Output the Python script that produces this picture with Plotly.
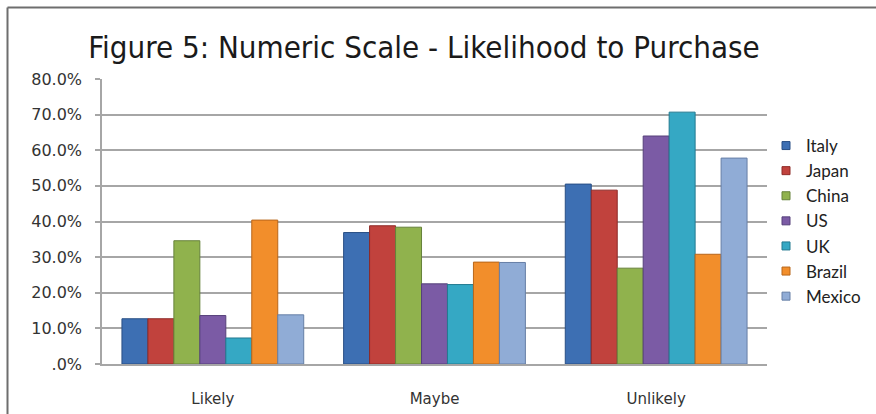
import plotly.graph_objects as go

# Survey answers by country, share of respondents per answer
categories = ["Likely", "Maybe", "Unlikely"]
countries = ["Italy", "Japan", "China", "US", "UK", "Brazil", "Mexico"]
italy = [12.7, 36.9, 50.5]
japan = [12.7, 38.8, 48.8]
china = [34.6, 38.4, 26.9]
us = [13.6, 22.5, 64.0]
uk = [7.3, 22.3, 70.7]
brazil = [40.4, 28.6, 30.8]
mexico = [13.8, 28.5, 57.8]

y_ticks = [0, 10, 20, 30, 40, 50, 60, 70, 80]
y_tick_labels = [".0%", "10.0%", "20.0%", "30.0%", "40.0%", "50.0%", "60.0%", "70.0%", "80.0%"]

series = [italy, japan, china, us, uk, brazil, mexico]
fills = ["#3d6fb3", "#c1423d", "#90b24d", "#7b5ba5", "#35a8c4", "#f28e2b", "#90acd6"]
edges = ["#294f85", "#8e2a27", "#66823a", "#56407a", "#237a90", "#b8661a", "#667fa6"]

W, H = 876, 414
L, R, T, B = 102, 109, 79, 50
pw, ph = W - L - R, H - T - B

fig = go.Figure()
for name, vals, fc, ec in zip(countries, series, fills, edges):
    fig.add_trace(go.Bar(
        x=categories, y=vals, name=name, showlegend=False,
        marker=dict(color=fc, line=dict(color=ec, width=1)),
    ))
# small square swatches for the legend
for name, fc, ec in zip(countries, fills, edges):
    fig.add_trace(go.Scatter(
        x=[None], y=[None], mode="markers", name=name,
        marker=dict(symbol="square", size=8, color=fc, line=dict(color=ec, width=1)),
    ))

def px_x(v):
    return (v - L) / pw

def px_y(v):
    return (H - B - v) / ph

# outer frame: top and left edges only
fig.add_shape(type="line", xref="paper", yref="paper",
              x0=px_x(7.5), x1=px_x(900), y0=px_y(7.5), y1=px_y(7.5),
              line=dict(color="#6e6e6e", width=2))
fig.add_shape(type="line", xref="paper", yref="paper",
              x0=px_x(7.5), x1=px_x(7.5), y0=px_y(7.5), y1=px_y(430),
              line=dict(color="#6e6e6e", width=2))

fig.update_layout(
    width=W, height=H,
    margin=dict(l=L, r=R, t=T, b=B, autoexpand=False),
    paper_bgcolor="white", plot_bgcolor="white",
    barmode="group", bargap=0.18, bargroupgap=0.0,
    title=dict(
        text="Figure 5: Numeric Scale - Likelihood to Purchase",
        x=424 / W, xanchor="center", xref="container",
        y=1 - 47 / H, yanchor="middle", yref="container",
        font=dict(family="DejaVu Sans Condensed, DejaVu Sans", size=31, color="#1a1a1a"),
    ),
    font=dict(family="DejaVu Sans", color="#333333"),
    legend=dict(
        x=px_x(766), xanchor="left", y=px_y(221), yanchor="middle",
        font=dict(family="Lato, DejaVu Sans", size=17, color="#222222"),
        itemwidth=30, tracegroupgap=0, bgcolor="rgba(0,0,0,0)",
    ),
    xaxis=dict(
        showgrid=False, showline=True, linecolor="#a6a6a6", linewidth=1.5,
        ticks="", tickfont=dict(family="DejaVu Sans", size=15, color="#333333"),
        ticklabelstandoff=20,
    ),
    yaxis=dict(
        range=[0, 80], tickvals=y_ticks, ticktext=y_tick_labels,
        showgrid=True, gridcolor="#a6a6a6", gridwidth=1.5,
        showline=True, linecolor="#a6a6a6", linewidth=1.5,
        ticks="outside", ticklen=5, tickcolor="#a6a6a6", tickwidth=1.5,
        tickfont=dict(family="DejaVu Sans", size=16, color="#333333"),
        ticklabelstandoff=10, zeroline=False,
    ),
)

fig.write_html("out.html")
